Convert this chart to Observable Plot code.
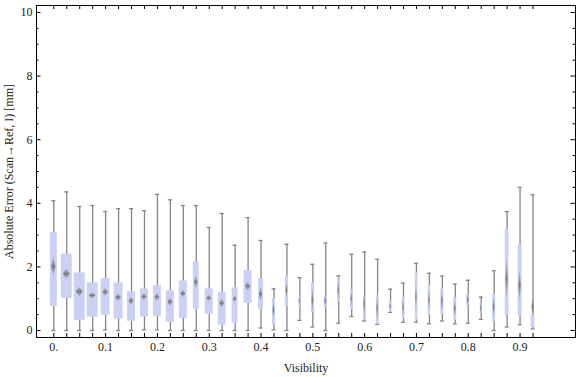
<!DOCTYPE html>
<html>
<head>
<meta charset="utf-8">
<script src="https://cdn.jsdelivr.net/npm/d3@7"></script>
<script src="https://cdn.jsdelivr.net/npm/@observablehq/plot@0.6"></script>
<style>
  html, body { margin: 0; padding: 0; background: #fff; }
  svg { font-family: "Liberation Serif", "DejaVu Serif", serif; }
</style>
</head>
<body>
<div id="chart"></div>
<script>
// Visibility bins
const visibility = [0, 0.025, 0.05, 0.075, 0.1, 0.125, 0.15, 0.175, 0.2, 0.225,
  0.25, 0.275, 0.3, 0.325, 0.35, 0.375, 0.4, 0.425, 0.45, 0.475,
  0.5, 0.525, 0.55, 0.575, 0.6, 0.625, 0.65, 0.675, 0.7, 0.725,
  0.75, 0.775, 0.8, 0.825, 0.85, 0.875, 0.9, 0.925];
// whisker minimum
const whiskerMin = [0, 0, 0, 0, 0.02, 0, 0, 0.02, 0.02, 0,
  0, 0, 0, 0, 0, 0, 0.08, 0.02, 0, 0.32,
  0.11, 0, 0.23, 0.44, 0.30, 0.19, 0.57, 0.26, 0.26, 0.21,
  0.30, 0.21, 0.23, 0.35, 0, 0.11, 0.18, 0.05];
// lower quartile
const q1 = [0.76, 1.01, 0.32, 0.42, 0.48, 0.36, 0.29, 0.42, 0.45, 0.26,
  0.38, 0.67, 0.51, 0.17, 0.23, 0.85, 0.67, 0.18, 0.76, 0.73,
  0.57, 0.71, 0.89, 0.66, 0.33, 0.19, 0.57, 0.38, 0.33, 0.48,
  0.51, 0.32, 0.79, 0.54, 0.27, 0.48, 0.45, 0.10];
// mean (diamond centre)
const mean = [2.00, 1.77, 1.21, 1.09, 1.20, 1.03, 0.92, 1.05, 1.04, 0.89,
  1.15, 1.51, 1.01, 0.85, 0.98, 1.38, 1.13, 0.63, 1.25, 0.91,
  0.96, 0.92, 1.25, 0.99, 0.83, 0.68, 0.75, 0.73, 1.04, 0.94,
  0.92, 0.68, 0.96, 0.70, 0.73, 1.61, 1.41, 0.73];
// upper quartile
const q3 = [3.09, 2.40, 1.81, 1.50, 1.63, 1.50, 1.22, 1.31, 1.41, 1.25,
  1.56, 2.16, 1.31, 1.19, 1.34, 1.88, 1.63, 1.00, 1.71, 1.07,
  1.50, 1.07, 1.65, 1.29, 1.06, 1.11, 0.92, 1.04, 1.81, 1.42,
  1.31, 1.03, 1.13, 0.86, 1.13, 3.18, 2.71, 0.48];
// whisker maximum
const whiskerMax = [4.08, 4.36, 3.90, 3.93, 3.74, 3.83, 3.83, 3.77, 4.28, 4.11,
  3.93, 3.93, 3.24, 3.68, 2.68, 3.55, 2.83, 1.31, 2.71, 1.66,
  2.08, 2.75, 1.72, 2.40, 2.47, 2.24, 1.30, 1.49, 2.11, 1.80,
  1.71, 1.46, 1.58, 1.05, 1.88, 3.74, 4.50, 4.27];
// confidence half-interval of the mean (diamond half-height)
const meanCI = [0.31, 0.17, 0.16, 0.11, 0.14, 0.13, 0.14, 0.13, 0.13, 0.15,
  0.13, 0.21, 0.11, 0.15, 0.12, 0.15, 0.23, 0.26, 0.26, 0.15,
  0.39, 0.20, 0.35, 0.30, 0.50, 0.45, 0.15, 0.30, 0.45, 0.40,
  0.35, 0.30, 0.20, 0.20, 0.35, 0.68, 0.52, 0.30];
// relative sample weight (drives box width)
const weight = [7, 11, 11, 11, 9, 9, 8, 8, 8, 8,
  8, 6, 8, 7.7, 6, 8, 5, 3, 3, 2,
  2.7, 3, 2.3, 2.3, 2.3, 2.3, 2.3, 2.3, 2.3, 2.3,
  3, 3, 3, 2, 3, 3.7, 4, 3.7];

const xTickLabels = ["0.", "0.1", "0.2", "0.3", "0.4", "0.5", "0.6", "0.7", "0.8", "0.9"];
const xTickValues = [0, 0.1, 0.2, 0.3, 0.4, 0.5, 0.6, 0.7, 0.8, 0.9];
const yTickValues = [0, 2, 4, 6, 8, 10];
const yMinorValues = d3.range(0, 10.01, 0.5);

const xDomain = [-0.0334, 1.007];
const yDomain = [-0.22, 10.22];
const W = 576, H = 377;
const mL = 36, mR = 1, mT = 5, mB = 40;
const xUnit = (xDomain[1] - xDomain[0]) / (W - mL - mR); // data per px
const yUnit = (yDomain[1] - yDomain[0]) / (H - mT - mB);

const boxes = visibility.map((v, i) => ({
  v, lo: whiskerMin[i], q1: q1[i], m: mean[i], q3: q3[i], hi: whiskerMax[i],
  ci: meanCI[i], hw: weight[i] * xUnit / 2
}));
const diamonds = boxes.flatMap((b, i) => {
  const dw = b.hw * 0.6;
  return [
    {i, x: b.v - dw, y1: b.m, y2: b.m},
    {i, x: b.v, y1: b.m - b.ci, y2: b.m + b.ci},
    {i, x: b.v + dw, y1: b.m, y2: b.m}
  ];
});
const capHalf = 2 * xUnit;
const whiskerColor = "#858585";

const chart = Plot.plot({
  width: W, height: H,
  marginLeft: mL, marginRight: mR, marginTop: mT, marginBottom: mB,
  x: {domain: xDomain, axis: null},
  y: {domain: yDomain, axis: null},
  marks: [
    // whiskers and caps
    Plot.ruleX(boxes, {x: "v", y1: "lo", y2: "hi", stroke: whiskerColor, strokeWidth: 1.3}),
    Plot.ruleY(boxes, {y: "hi", x1: d => d.v - capHalf, x2: d => d.v + capHalf, stroke: whiskerColor, strokeWidth: 1.3}),
    Plot.ruleY(boxes, {y: "lo", x1: d => d.v - capHalf, x2: d => d.v + capHalf, stroke: whiskerColor, strokeWidth: 1.3}),
    // boxes
    Plot.rect(boxes, {x1: d => d.v - d.hw, x2: d => d.v + d.hw, y1: "q1", y2: "q3", fill: "#cad1f4"}),
    // mean diamonds
    Plot.areaY(diamonds, {x: "x", y1: "y1", y2: "y2", z: "i", fill: "url(#diamondGrad)", curve: "linear"}),
    // frame
    Plot.frame({stroke: "black", strokeWidth: 1}),
    // bottom & top ticks
    Plot.ruleX(visibility, {x: d => d, y1: yDomain[0], y2: yDomain[0] + 4 * yUnit, stroke: "black"}),
    Plot.ruleX(visibility, {x: d => d, y1: yDomain[1], y2: yDomain[1] - 4 * yUnit, stroke: "black"}),
    // left & right ticks
    Plot.ruleY(yMinorValues, {y: d => d, x1: xDomain[0], x2: d => xDomain[0] + (d % 2 === 0 ? 4.5 : 2.5) * xUnit, stroke: "black"}),
    Plot.ruleY(yMinorValues, {y: d => d, x1: xDomain[1], x2: d => xDomain[1] - (d % 2 === 0 ? 4.5 : 2.5) * xUnit, stroke: "black"}),
    // tick labels
    Plot.text(xTickValues, {x: d => d, text: (d, i) => xTickLabels[i], frameAnchor: "bottom", dy: 13, fontSize: 12, fill: "#222"}),
    Plot.text(yTickValues, {y: d => d, text: d => String(d), frameAnchor: "left", dx: -4, textAnchor: "end", fontSize: 12, fill: "#222"}),
    // axis titles
    Plot.text(["Visibility"], {frameAnchor: "bottom", dy: 34, fontSize: 12, fill: "#222"}),
    Plot.text(["Absolute Error (Scan\u2192Ref, I) [mm]"], {frameAnchor: "left", dx: -27, textAnchor: "middle", rotate: -90, fontSize: 12, fill: "#222"})
  ]
});

const defs = document.createElementNS("http://www.w3.org/2000/svg", "defs");
defs.innerHTML = `<linearGradient id="diamondGrad" x1="0" y1="0" x2="0" y2="1">
  <stop offset="0" stop-color="#777" stop-opacity="0.15"/>
  <stop offset="0.5" stop-color="#777" stop-opacity="0.95"/>
  <stop offset="1" stop-color="#777" stop-opacity="0.15"/>
</linearGradient>`;
chart.insertBefore(defs, chart.firstChild);
document.getElementById("chart").appendChild(chart);
</script>
</body>
</html>
